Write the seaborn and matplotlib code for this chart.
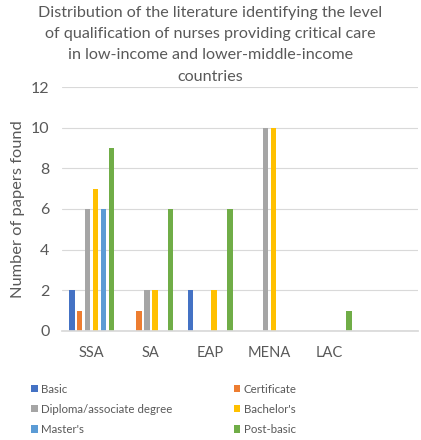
import matplotlib
matplotlib.use("Agg")
import matplotlib.pyplot as plt
import seaborn as sns
import pandas as pd

regions = ["SSA", "SA", "EAP", "MENA", "LAC"]
levels = ["Basic", "Certificate", "Diploma/associate degree", "Bachelor's", "Master's", "Post-basic"]
basic = [2, 0, 2, 0, 0]
certificate = [1, 1, 0, 0, 0]
diploma = [6, 2, 0, 10, 0]
bachelor = [7, 2, 2, 10, 0]
master = [6, 0, 0, 0, 0]
post_basic = [9, 6, 6, 0, 1]
colors = ["#4472C4", "#ED7D31", "#A5A5A5", "#FFC000", "#5B9BD5", "#70AD47"]
title_lines = ["Distribution of the literature identifying the level",
               "of qualification of nurses providing critical care",
               "in low-income and lower-middle-income",
               "countries"]
ylabel = "Number of papers found"
yticks = [0, 2, 4, 6, 8, 10, 12]

series = [basic, certificate, diploma, bachelor, master, post_basic]
rows = []
for lvl, vals in zip(levels, series):
    for r, v in zip(regions, vals):
        rows.append({"region": r, "level": lvl, "count": v})
df = pd.DataFrame(rows)

sns.set_theme(style="white")
plt.rcParams["font.family"] = ["Lato", "DejaVu Sans"]
txt = "#595959"

fig = plt.figure(figsize=(4.21, 4.4), dpi=100)
ax = fig.add_axes([0.147, 0.248, 0.846, 0.554])
order = regions + [" "]
sns.barplot(data=df, x="region", y="count", hue="level", order=order,
            hue_order=levels, palette=colors, ax=ax, gap=0.3,
            linewidth=0, saturation=1, legend=True)

ax.set_ylim(0, 12)
ax.set_yticks(yticks)
ax.yaxis.grid(True, color="#D9D9D9", linewidth=0.8)
ax.set_axisbelow(True)
for s in ["top", "right", "left"]:
    ax.spines[s].set_visible(False)
ax.spines["bottom"].set_color("#D9D9D9")
ax.tick_params(axis="both", length=0, colors=txt)
ax.tick_params(axis="x", pad=11, labelsize=10.5)
ax.tick_params(axis="y", pad=9, labelsize=11.5)
ax.set_xlabel("")
ax.set_ylabel(ylabel, color=txt, fontsize=11.8, labelpad=4)

handles, labels = ax.get_legend_handles_labels()
ax.get_legend().remove()
idx = [0, 2, 4, 1, 3, 5]
fig.legend([handles[i] for i in idx], [labels[i] for i in idx], ncol=2,
           loc="upper left", bbox_to_anchor=(0.073, 0.128), frameon=False,
           fontsize=8.3, labelcolor=txt, handlelength=0.6, handleheight=0.6,
           handletextpad=0.3, columnspacing=5.3, labelspacing=0.8,
           borderaxespad=0, borderpad=0)

for ypix, line in zip([13, 34, 55, 77], title_lines):
    fig.text(0.5, 1 - ypix / 440, line, ha="center", va="center", color=txt,
             fontsize=11.6)

fig.savefig("out.png", dpi=100)
